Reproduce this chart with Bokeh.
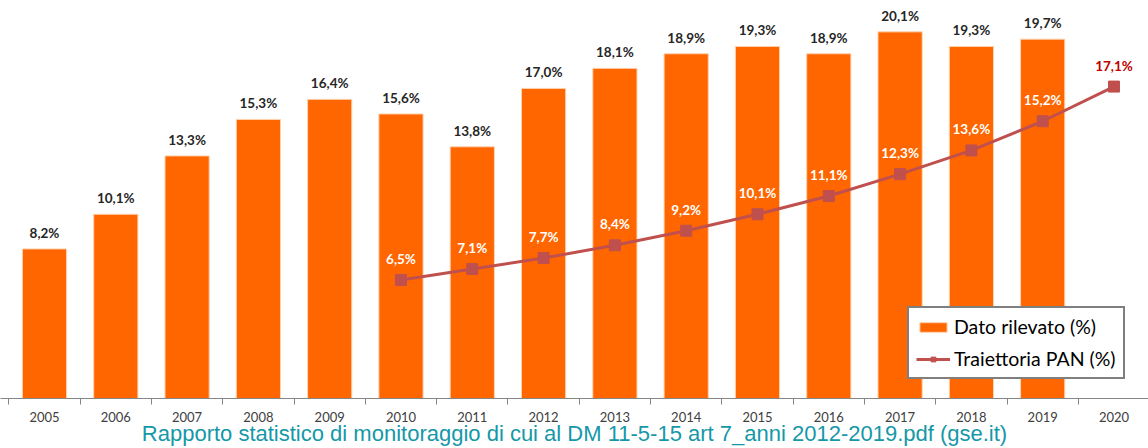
from bokeh.plotting import figure
from bokeh.models import (ColumnDataSource, Range1d, FixedTicker, Legend, LegendItem, Title)
from bokeh.embed import file_html
from bokeh.resources import INLINE
from bokeh.core.properties import value

# ---- data ----
bar_years = [2005, 2006, 2007, 2008, 2009, 2010, 2011, 2012, 2013, 2014, 2015, 2016, 2017, 2018, 2019]
bar_values = [8.2, 10.1, 13.3, 15.3, 16.4, 15.6, 13.8, 17.0, 18.1, 18.9, 19.3, 18.9, 20.1, 19.3, 19.7]
pan_years = [2010, 2011, 2012, 2013, 2014, 2015, 2016, 2017, 2018, 2019, 2020]
pan_values = [6.5, 7.1, 7.7, 8.4, 9.2, 10.1, 11.1, 12.3, 13.6, 15.2, 17.1]
all_years = list(range(2005, 2021))
bar_name = "Dato rilevato (%)"
pan_name = "Traiettoria PAN (%)"
source_text = "Rapporto statistico di monitoraggio di cui al DM 11-5-15 art 7_anni 2012-2019.pdf (gse.it)"

FONT = "Lato"
BAR_COLOR = "#FF6600"
LINE_COLOR = "#C0504D"


def fmt(v):
    return f"{v:.1f}%".replace(".", ",")


bar_src = ColumnDataSource(dict(x=bar_years, y=bar_values, lbl=[fmt(v) for v in bar_values]))
pan_src = ColumnDataSource(dict(
    x=pan_years, y=pan_values, lbl=[fmt(v) for v in pan_values],
    col=["white"] * (len(pan_values) - 1) + ["#C00000"]))

p = figure(width=1148, height=448, output_backend="svg", toolbar_location=None,
           x_range=Range1d(2004.383, 2020.484), y_range=Range1d(0, 21.82),
           min_border_left=0, min_border_right=0, min_border_top=0, min_border_bottom=50)
p.outline_line_color = None
p.grid.visible = False
p.yaxis.visible = False
p.background_fill_color = "white"
p.border_fill_color = "white"

bars = p.vbar(x="x", top="y", width=0.62, source=bar_src, fill_color=BAR_COLOR,
              line_color="#FFD3B0", line_width=1)
p.text(x="x", y="y", text="lbl", source=bar_src, text_align="center", text_baseline="middle",
       y_offset=-16, text_font=value(FONT), text_font_style="bold", text_font_size="13.5px",
       text_color="#262626")

ln = p.line(x="x", y="y", source=pan_src, line_color=LINE_COLOR, line_width=3)
mk = p.scatter(x="x", y="y", source=pan_src, marker="square", size=11,
               fill_color=LINE_COLOR, line_color=LINE_COLOR)
p.text(x="x", y="y", text="lbl", source=pan_src, text_align="center", text_baseline="middle",
       y_offset=-21, text_font=value(FONT), text_font_style="bold", text_font_size="13.5px",
       text_color="col")

ax = p.xaxis[0]
ax.ticker = FixedTicker(ticks=all_years, minor_ticks=[y - 0.5 for y in all_years] + [all_years[-1] + 0.5])
ax.major_label_overrides = {y: str(y) for y in all_years}
ax.major_tick_out = 0
ax.major_tick_in = 0
ax.minor_tick_out = 6
ax.minor_tick_in = 0
ax.minor_tick_line_color = "#868686"
ax.axis_line_color = "#868686"
ax.axis_line_width = 1.2
ax.major_label_standoff = 7
ax.major_label_text_font = FONT
ax.major_label_text_font_size = "13px"
ax.major_label_text_color = "#404040"

legend = Legend(items=[LegendItem(label=bar_name, renderers=[bars]),
                       LegendItem(label=pan_name, renderers=[ln, mk])],
                location=(907, 19), orientation="vertical",
                label_text_font=FONT, label_text_font_size="19.5px", label_text_color="#000000",
                glyph_width=34, glyph_height=12, label_height=20, label_standoff=4,
                padding=7, spacing=9, border_line_color="black", border_line_width=2,
                background_fill_color="white", background_fill_alpha=1.0)
p.add_layout(legend, "center")

src_title = Title(text=source_text, align="center", text_font="Liberation Sans",
                  text_font_size="22px", text_font_style="normal", text_color="#1598A8",
                  standoff=-11, offset=0)
p.add_layout(src_title, "below")

open("out.html", "w").write(file_html(p, INLINE))
